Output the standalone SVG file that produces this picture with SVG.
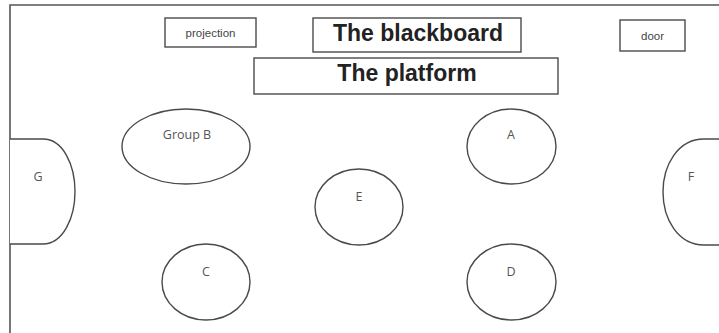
<svg xmlns="http://www.w3.org/2000/svg" width="719" height="333" viewBox="0 0 719 333">
  <style>
    .shape { fill: #fff; stroke: #4a4a4a; stroke-width: 1.4; }
    .frame { fill: none; stroke: #555; stroke-width: 1.6; }
    .lbl { font-family: "Open Sans", "Liberation Sans", sans-serif; font-size: 12.5px; fill: #555; text-anchor: middle; }
    .big { font-family: "Liberation Sans", Arial, sans-serif; font-weight: bold; font-size: 23px; fill: #222; text-anchor: middle; }
    .small { font-family: "Liberation Sans", Arial, sans-serif; font-size: 11.5px; fill: #444; text-anchor: middle; }
  </style>
  <rect width="719" height="333" fill="#fff"/>
  <!-- room outline: left wall and front wall -->
  <path class="frame" d="M10,333 V5 H719"/>

  <g id="projection">
    <rect class="shape" x="165" y="18" width="91" height="29"/>
    <text class="small" x="210.5" y="37">projection</text>
  </g>
  <g id="blackboard">
    <rect class="shape" x="313" y="18" width="208" height="34"/>
    <text class="big" x="418" y="41">The blackboard</text>
  </g>
  <g id="platform">
    <rect class="shape" x="254" y="58" width="304" height="36"/>
    <text class="big" x="407" y="80.5">The platform</text>
  </g>
  <g id="door">
    <rect class="shape" x="620" y="20" width="65" height="31"/>
    <text class="small" x="652.5" y="39.5" font-size="10.5">door</text>
  </g>

  <g id="groupB">
    <ellipse class="shape" cx="186" cy="146.5" rx="64" ry="37.5"/>
    <text class="lbl" x="187" y="139">Group B</text>
  </g>
  <g id="G">
    <path class="shape" d="M10,139 H43 C63,139 75,165 75,191.5 C75,218 63,244 43,244 H10"/>
    <text class="lbl" x="38" y="181">G</text>
  </g>
  <g id="C">
    <ellipse class="shape" cx="206" cy="282" rx="44" ry="38"/>
    <text class="lbl" x="206" y="276">C</text>
  </g>
  <g id="E">
    <ellipse class="shape" cx="359" cy="207" rx="44" ry="38"/>
    <text class="lbl" x="359" y="201">E</text>
  </g>
  <g id="A">
    <ellipse class="shape" cx="511.5" cy="146.5" rx="44.5" ry="37.5"/>
    <text class="lbl" x="511" y="139">A</text>
  </g>
  <g id="D">
    <ellipse class="shape" cx="511.5" cy="282" rx="44.5" ry="38"/>
    <text class="lbl" x="511" y="276">D</text>
  </g>
  <g id="F">
    <path class="shape" d="M719,139 H704 C678,139 663,165 663,192 C663,219 678,245 704,245 H719"/>
    <text class="lbl" x="691" y="181">F</text>
  </g>
  <g id="connectors"></g>
</svg>
